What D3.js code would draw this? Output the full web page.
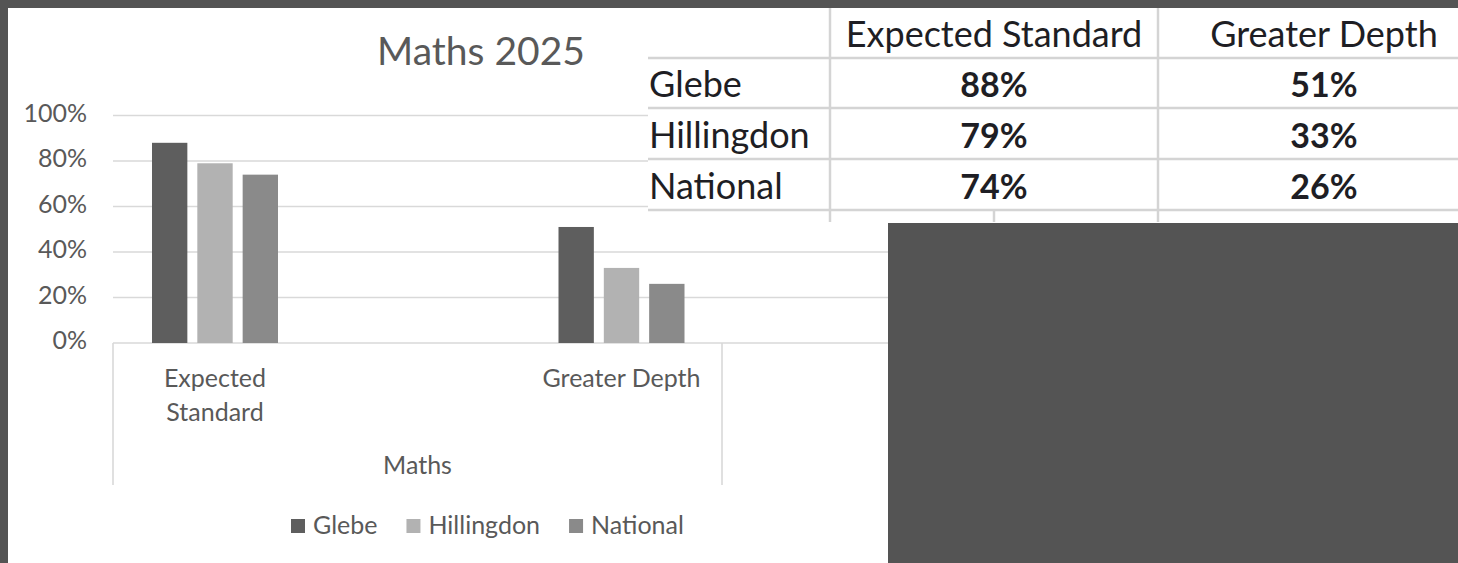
<!DOCTYPE html>
<html>
<head>
<meta charset="utf-8">
<script src="https://cdn.jsdelivr.net/npm/d3@7"></script>
<style>
  html, body { margin: 0; padding: 0; background: #545454; }
  svg { display: block; font-family: Lato, "Open Sans", sans-serif; }
</style>
</head>
<body>
<svg id="chart" width="1458" height="563"></svg>
<script>
const categories = ['Expected Standard', 'Greater Depth'];
const categoryLines = [['Expected', 'Standard'], ['Greater Depth']];
const groupLabel = 'Maths';
const seriesNames = ['Glebe', 'Hillingdon', 'National'];
const glebe = [0.88, 0.51];
const hillingdon = [0.79, 0.33];
const national = [0.74, 0.26];
const yTicks = [0, 0.2, 0.4, 0.6, 0.8, 1];
const seriesColors = ['#5e5e5e', '#b2b2b2', '#8a8a8a'];

const seriesValues = [glebe, hillingdon, national];

(function () {
  const svg = d3.select('#chart');
  const W = 1458, H = 563;
  const gridColor = '#d9d9d9';
  const textColor = '#595959';

  // page frame + chart background
  svg.append('rect').attr('width', W).attr('height', H).attr('fill', '#545454');
  svg.append('rect').attr('x', 8).attr('y', 8).attr('width', W - 8).attr('height', H - 8).attr('fill', '#fff');

  const plotLeft = 113, plotRight = 1300, groupRight = 722;
  const y = d3.scaleLinear().domain([0, 1]).range([343, 115.5]);
  const x = d3.scalePoint().domain(categories).range([215, 621.5]);
  const xs = d3.scaleBand().domain(seriesNames).range([-63, 63]).paddingInner(0.22);

  // title
  svg.append('text')
    .attr('x', 481).attr('y', 65)
    .attr('text-anchor', 'middle')
    .attr('font-size', 39)
    .attr('fill', textColor)
    .text('Maths 2025');

  // gridlines
  svg.append('g')
    .selectAll('line')
    .data(yTicks)
    .join('line')
    .attr('x1', plotLeft).attr('x2', plotRight)
    .attr('y1', d => y(d)).attr('y2', d => y(d))
    .attr('stroke', gridColor).attr('stroke-width', 1.6);

  // y axis labels
  const yAxis = svg.append('g')
    .attr('transform', `translate(${plotLeft},0)`)
    .call(d3.axisLeft(y).tickValues(yTicks).tickFormat(d3.format('.0%')).tickSize(0).tickPadding(26));
  yAxis.select('.domain').remove();
  yAxis.selectAll('text')
    .attr('font-family', 'Lato, sans-serif')
    .attr('font-size', 25)
    .attr('fill', textColor)
    .attr('dy', '0.22em');

  // bars
  const series = seriesNames.map((name, i) => ({ name, values: seriesValues[i], color: seriesColors[i] }));
  svg.append('g')
    .selectAll('g')
    .data(series)
    .join('g')
    .attr('fill', d => d.color)
    .selectAll('rect')
    .data(d => categories.map((c, j) => ({ cat: c, name: d.name, v: d.values[j] })))
    .join('rect')
    .attr('x', d => x(d.cat) + xs(d.name))
    .attr('width', xs.bandwidth())
    .attr('y', d => y(d.v))
    .attr('height', d => y(0) - y(d.v));

  // multi-level category axis
  const axisBottom = 485;
  svg.append('g')
    .selectAll('line')
    .data([plotLeft, groupRight])
    .join('line')
    .attr('x1', d => d).attr('x2', d => d)
    .attr('y1', y(0)).attr('y2', axisBottom)
    .attr('stroke', gridColor).attr('stroke-width', 1.6);

  svg.append('g')
    .selectAll('text')
    .data(categories)
    .join('text')
    .attr('x', d => x(d))
    .attr('y', 387)
    .attr('text-anchor', 'middle')
    .attr('font-size', 25)
    .attr('fill', textColor)
    .each(function (d, i) {
      d3.select(this).selectAll('tspan')
        .data(categoryLines[i])
        .join('tspan')
        .attr('x', x(d))
        .attr('dy', (t, k) => k === 0 ? 0 : 34)
        .text(t => t);
    });

  svg.append('text')
    .attr('x', (plotLeft + groupRight) / 2).attr('y', 474)
    .attr('text-anchor', 'middle')
    .attr('font-size', 25)
    .attr('fill', textColor)
    .text(groupLabel);

  // legend
  const legend = svg.append('g').attr('transform', 'translate(291,0)');
  let lx = 0;
  series.forEach(s => {
    legend.append('rect')
      .attr('x', lx).attr('y', 519)
      .attr('width', 14).attr('height', 14)
      .attr('fill', s.color);
    const t = legend.append('text')
      .attr('x', lx + 22).attr('y', 534)
      .attr('font-size', 25)
      .attr('fill', textColor)
      .text(s.name);
    lx += 22 + t.node().getComputedTextLength() + 29;
  });

  // pasted table on top of the chart
  const table = svg.append('g');
  const tLeft = 648, tTop = 8, tBottom = 222;
  const colEdges = [648, 830, 1158, 1490];
  const rowEdges = [8, 58, 108, 159, 210, 262];
  const lineColor = '#d4d4d4';
  const clip = svg.append('defs').append('clipPath').attr('id', 'tclip');
  clip.append('rect').attr('x', tLeft).attr('y', tTop).attr('width', W - tLeft).attr('height', tBottom - tTop);
  table.attr('clip-path', 'url(#tclip)');
  table.append('rect').attr('x', tLeft).attr('y', tTop).attr('width', W - tLeft).attr('height', tBottom - tTop).attr('fill', '#fff');

  table.selectAll('line.h')
    .data(rowEdges.slice(1, 5))
    .join('line')
    .attr('class', 'h')
    .attr('x1', tLeft).attr('x2', W)
    .attr('y1', d => d).attr('y2', d => d)
    .attr('stroke', lineColor).attr('stroke-width', 2.5);
  table.selectAll('line.v')
    .data([830, 1158])
    .join('line')
    .attr('class', 'v')
    .attr('x1', d => d).attr('x2', d => d)
    .attr('y1', tTop).attr('y2', tBottom)
    .attr('stroke', lineColor).attr('stroke-width', 2.5);
  table.append('line')
    .attr('x1', 994).attr('x2', 994)
    .attr('y1', rowEdges[4]).attr('y2', tBottom)
    .attr('stroke', lineColor).attr('stroke-width', 2.5);

  const colMid = i => (colEdges[i + 1] + colEdges[i + 2]) / 2;
  const tableFont = 36;
  const tableInk = '#1e1e24';

  table.selectAll('text.head')
    .data(categories)
    .join('text')
    .attr('class', 'head')
    .attr('x', (d, i) => colMid(i))
    .attr('y', rowEdges[1] - 11)
    .attr('text-anchor', 'middle')
    .attr('font-size', tableFont)
    .attr('fill', tableInk)
    .text(d => d);

  table.selectAll('text.row')
    .data(seriesNames)
    .join('text')
    .attr('class', 'row')
    .attr('x', tLeft + 1)
    .attr('y', (d, i) => rowEdges[i + 2] - 11)
    .attr('font-size', tableFont)
    .attr('fill', tableInk)
    .text(d => d);

  const cells = [];
  seriesNames.forEach((s, i) => categories.forEach((c, j) => cells.push({ r: i, c: j, v: seriesValues[i][j] })));
  table.selectAll('text.cell')
    .data(cells)
    .join('text')
    .attr('class', 'cell')
    .attr('x', d => colMid(d.c))
    .attr('y', d => rowEdges[d.r + 2] - 11)
    .attr('text-anchor', 'middle')
    .attr('font-size', 34)
    .attr('font-weight', 'bold')
    .attr('fill', tableInk)
    .text(d => d3.format('.0%')(d.v));

  // grey block covering the lower right
  svg.append('rect').attr('x', 888).attr('y', 223).attr('width', W - 888).attr('height', H - 223).attr('fill', '#545454');
})();
</script>
</body>
</html>
